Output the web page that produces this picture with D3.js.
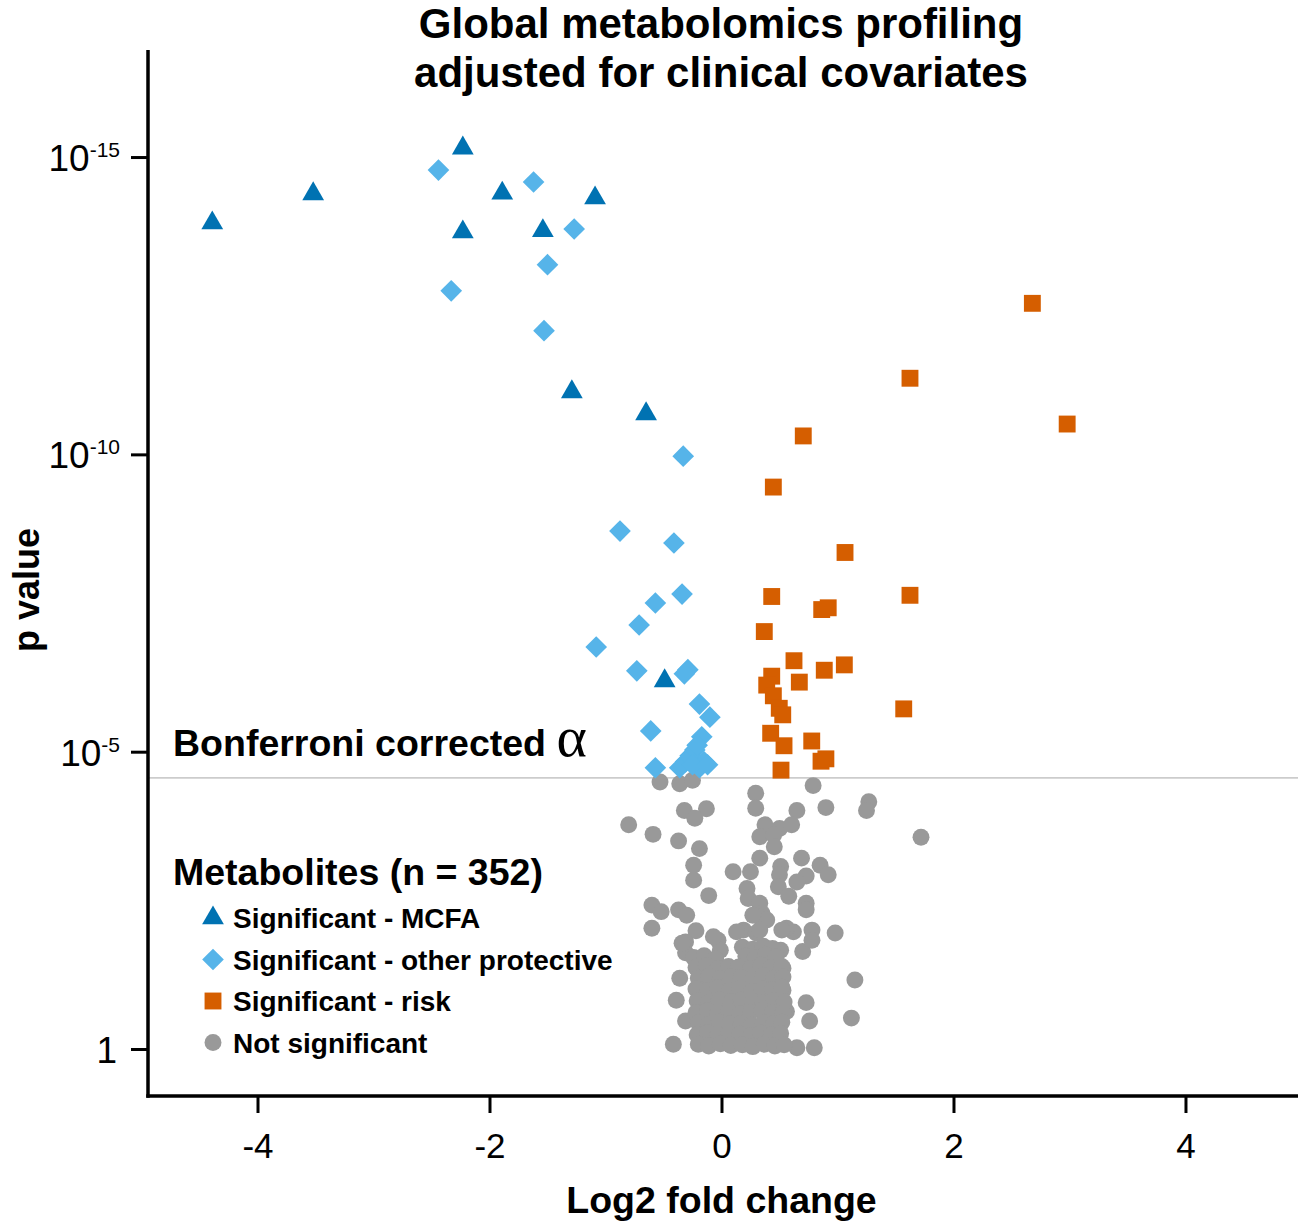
<!DOCTYPE html>
<html>
<head>
<meta charset="utf-8">
<script src="https://cdn.jsdelivr.net/npm/d3@7"></script>
<style>
  html, body { margin: 0; padding: 0; background: #fff; }
  svg { display: block; font-family: "Liberation Sans", Arial, sans-serif; }
</style>
</head>
<body>
<svg id="chart" width="1298" height="1228"></svg>
<script>
// ---------- DATA (log2 fold change, -log10 p) ----------
const mcfaFC      = [-2.23, -3.52, -4.39, -1.89, -1.09, -2.23, -1.54, -1.29, -0.65, -0.49];
const mcfaNegLogP = [15.15, 14.38, 13.89, 14.39, 14.31, 13.74, 13.76, 11.05, 10.68, 6.19];

const protFC      = [-2.44, -1.62, -1.27, -1.50, -2.33, -1.53, -0.33, -0.875, -0.41, -0.34,
                     -0.57, -0.71, -1.08, -0.73, -0.29, -0.32, -0.19, -0.10, -0.61, -0.17,
                     -0.23, -0.27, -0.31, -0.15, -0.36, -0.19, -0.25, -0.57, -0.12, -0.21];
const protNegLogP = [14.78, 14.58, 13.79, 13.19, 12.75, 12.08, 9.97, 8.71, 8.51, 7.65,
                     7.50, 7.13, 6.76, 6.36, 6.38, 6.31, 5.80, 5.58, 5.35, 5.25,
                     5.03, 4.93, 4.83, 4.83, 4.73, 4.73, 4.78, 4.73, 4.78, 5.11];

const riskFC      = [2.68, 1.625, 2.98, 0.705, 0.447, 1.065, 1.625, 0.433, 0.864, 0.92,
                     0.369, 0.625, 1.059, 0.886, 0.433, 0.671, 0.39, 0.447, 0.498, 0.528,
                     1.571, 0.424, 0.539, 0.778, 0.858, 0.90, 0.513];
const riskNegLogP = [12.54, 11.28, 10.51, 10.31, 9.45, 8.35, 7.63, 7.61, 7.39, 7.42,
                     7.02, 6.53, 6.46, 6.37, 6.27, 6.17, 6.12, 5.94, 5.73, 5.62,
                     5.72, 5.31, 5.10, 5.18, 4.84, 4.88, 4.69];

const nsFC = [
  -0.53, -0.36, -0.25, 0.79, 0.295, 0.295, -0.32, -0.13, -0.23, 0.65,
  0.90, 1.27, 1.25, -0.80, -0.59, -0.37, -0.19, 1.72, 0.375, 0.50,
  0.605, 0.33, 0.45, 0.455, 0.33, 0.69, 0.51, 0.85, 0.92, -0.24,
  -0.24, 0.10, 0.25, 0.50, 0.73, 0.65, 0.49, 0.22, 0.58, -0.11,
  0.23, 0.33, 0.73, 0.73, -0.60, -0.52, -0.37, -0.30, 0.35, -0.60,
  0.98, 1.15, 1.12, -0.415, 0.65, 0.80, -0.36, -0.39, -0.31, 0.73,
  0.76, 0.70, 0.56, 0.53, 0.53, 0.51, 0.78, 0.78, 0.62, 0.56,
  0.33, 0.39, 0.19, 0.30, -0.22, -0.31, -0.31, -0.03, -0.01, 0.27,
  0.52, 0.33, 0.13, -0.07, -0.34,
  0.18, 0.27, 0.36, 0.44,
  -0.24, -0.15, -0.05, 0.21, 0.29, 0.38, 0.47,
  -0.22, -0.13, -0.03, 0.06, 0.15, 0.25, 0.34, 0.43, 0.52,
  -0.20, -0.11, -0.01, 0.08, 0.17, 0.27, 0.36, 0.45, 0.53,
  -0.22, -0.12, -0.03, 0.07, 0.16, 0.26, 0.35, 0.44, 0.52,
  -0.21, -0.11, -0.02, 0.08, 0.17, 0.27, 0.36, 0.45, 0.54,
  -0.22, -0.12, -0.03, 0.06, 0.16, 0.25, 0.35, 0.44, 0.53,
  -0.20, -0.11, -0.02, 0.07, 0.17, 0.26, 0.36, 0.45, 0.52,
  -0.21, -0.12, -0.03, 0.06, 0.16, 0.25, 0.34, 0.43, 0.51,
  -0.20, -0.11, -0.01, 0.08, 0.18, 0.27, 0.37, 0.46, 0.54
];
const nsNegLogP = [
  4.49, 4.46, 4.52, 4.43, 4.30, 4.05, 4.01, 4.04, 3.88, 4.01,
  4.06, 4.16, 4.01, 3.77, 3.61, 3.50, 3.37, 3.56, 3.77, 3.71,
  3.77, 3.57, 3.60, 3.40, 3.21, 3.21, 3.07, 3.09, 2.93, 3.09,
  2.84, 2.98, 2.98, 2.93, 2.91, 2.81, 2.73, 2.70, 2.57, 2.58,
  2.53, 2.45, 2.45, 2.34, 2.42, 2.31, 2.34, 2.25, 2.28, 2.03,
  1.95, 1.16, 0.52, 0.08, 0.02, 0.02, 1.19, 0.82, 0.47, 0.78,
  0.47, 1.64, 0.63, 0.99, 1.36, 1.66, 2.00, 1.83, 1.97, 2.03,
  2.22, 2.17, 2.00, 1.95, 1.99, 1.80, 1.62, 1.83, 1.66, 2.25,
  2.00, 2.00, 1.97, 1.89, 1.78,
  1.71, 1.68, 1.73, 1.69,
  1.54, 1.57, 1.52, 1.56, 1.53, 1.58, 1.55,
  1.37, 1.40, 1.36, 1.39, 1.38, 1.35, 1.41, 1.37, 1.39,
  1.19, 1.22, 1.18, 1.21, 1.20, 1.17, 1.23, 1.19, 1.21,
  1.01, 0.98, 1.03, 0.99, 1.02, 0.97, 1.01, 1.00, 1.04,
  0.81, 0.78, 0.83, 0.79, 0.82, 0.80, 0.77, 0.81, 0.79,
  0.61, 0.64, 0.60, 0.63, 0.59, 0.62, 0.65, 0.61, 0.60,
  0.44, 0.41, 0.45, 0.42, 0.43, 0.40, 0.44, 0.42, 0.45,
  0.24, 0.27, 0.23, 0.26, 0.25, 0.22, 0.27, 0.24, 0.26,
  0.08, 0.05, 0.09, 0.06, 0.07, 0.04, 0.08, 0.05, 0.07
];

const bonferroniNegLogP = 4.56;

const xTicks = [-4, -2, 0, 2, 4];
const yTicks = [0, 5, 10, 15];           // -log10 p
const titleLines = ["Global metabolomics profiling", "adjusted for clinical covariates"];
const legendTitle = "Metabolites (n = 352)";
const legendLabels = ["Significant - MCFA", "Significant - other protective", "Significant - risk", "Not significant"];
const colors = { mcfa: "#0072B2", prot: "#56B4E9", risk: "#D55E00", ns: "#999999" };

// ---------- LAYOUT ----------
const svg = d3.select("#chart");
const plotLeft = 148, plotRight = 1298, plotTop = 50, plotBottom = 1096;

const x = d3.scaleLinear().domain([-4.944, 4.97]).range([plotLeft, plotRight]);
const y = d3.scaleLinear().domain([-0.79, 16.8]).range([plotBottom, plotTop]);

// Bonferroni line
svg.append("line")
  .attr("x1", plotLeft).attr("x2", plotRight)
  .attr("y1", y(bonferroniNegLogP)).attr("y2", y(bonferroniNegLogP))
  .attr("stroke", "#cccccc").attr("stroke-width", 1.6);

// symbols
const symTri = d3.symbol().type(d3.symbolTriangle).size(205);
const symDia = d3.symbol().type(d3.symbolSquare).size(235);
const symSq  = d3.symbol().type(d3.symbolSquare).size(285);
const symCir = d3.symbol().type(d3.symbolCircle).size(225);

const zip = (a, b) => a.map((v, i) => [v, b[i]]);

const gPts = svg.append("g");
gPts.selectAll(".ns").data(zip(nsFC, nsNegLogP)).join("path")
  .attr("class", "ns")
  .attr("d", symCir)
  .attr("transform", d => `translate(${x(d[0])},${y(d[1])})`)
  .attr("fill", colors.ns);

gPts.selectAll(".risk").data(zip(riskFC, riskNegLogP)).join("path")
  .attr("class", "risk")
  .attr("d", symSq)
  .attr("transform", d => `translate(${x(d[0])},${y(d[1])})`)
  .attr("fill", colors.risk);

gPts.selectAll(".prot").data(zip(protFC, protNegLogP)).join("path")
  .attr("class", "prot")
  .attr("d", symDia)
  .attr("transform", d => `translate(${x(d[0])},${y(d[1])}) rotate(45)`)
  .attr("fill", colors.prot);

gPts.selectAll(".mcfa").data(zip(mcfaFC, mcfaNegLogP)).join("path")
  .attr("class", "mcfa")
  .attr("d", symTri)
  .attr("transform", d => `translate(${x(d[0])},${y(d[1])})`)
  .attr("fill", colors.mcfa);

// ---------- AXES ----------
const xAxis = d3.axisBottom(x).tickValues(xTicks).tickSize(17).tickSizeOuter(0)
  .tickPadding(20).tickFormat(d => String(d));
const gx = svg.append("g").attr("transform", `translate(0,${plotBottom})`).call(xAxis);
gx.select(".domain").attr("stroke", "#000").attr("stroke-width", 3.5)
  .attr("d", `M${plotLeft - 1.75},0H${plotRight}`);
gx.selectAll(".tick line").attr("stroke", "#000").attr("stroke-width", 3);
gx.selectAll(".tick text").attr("font-size", 35).attr("fill", "#000")
  .attr("font-family", "Liberation Sans, Arial, sans-serif");

const yAxis = d3.axisLeft(y).tickValues(yTicks).tickSize(17).tickSizeOuter(0).tickPadding(10);
const gy = svg.append("g").attr("transform", `translate(${plotLeft},0)`).call(yAxis);
gy.select(".domain").attr("stroke", "#000").attr("stroke-width", 3.5)
  .attr("d", `M0,${plotTop}V${plotBottom + 1.75}`);
gy.selectAll(".tick line").attr("stroke", "#000").attr("stroke-width", 3);
gy.selectAll(".tick text").each(function(d) {
  const t = d3.select(this);
  t.text(null).attr("font-size", 37).attr("fill", "#000").attr("x", -28).attr("dy", "0.36em")
   .attr("font-family", "Liberation Sans, Arial, sans-serif");
  if (d === 0) {
    t.text("1").attr("x", -31);
  } else {
    t.append("tspan").text("10");
    t.append("tspan").text("-" + d).attr("font-size", 21).attr("dy", -14);
  }
});

// axis titles
svg.append("text")
  .attr("x", x(0)).attr("y", 1213)
  .attr("text-anchor", "middle").attr("font-size", 37.5).attr("font-weight", "bold")
  .text("Log2 fold change");

svg.append("text")
  .attr("transform", `translate(39,${590}) rotate(-90)`)
  .attr("text-anchor", "middle").attr("font-size", 36).attr("font-weight", "bold")
  .text("p value");

// title
titleLines.forEach((t, i) => {
  svg.append("text")
    .attr("x", 721).attr("y", 38 + i * 49)
    .attr("text-anchor", "middle").attr("font-size", 42).attr("font-weight", "bold")
    .text(t);
});

// Bonferroni label
const bt = svg.append("text").attr("x", 173).attr("y", 756)
  .attr("font-size", 37.5).attr("font-weight", "bold");
bt.append("tspan").text("Bonferroni corrected ");
bt.append("tspan").text("α").attr("font-family", "Liberation Serif, DejaVu Serif, serif")
  .attr("font-weight", "normal").attr("font-size", 58);

// ---------- LEGEND ----------
svg.append("text").attr("x", 173).attr("y", 885)
  .attr("font-size", 37.5).attr("font-weight", "bold").text(legendTitle);

const legendSyms = [
  { sym: symTri, color: colors.mcfa, rot: 0 },
  { sym: symDia, color: colors.prot, rot: 45 },
  { sym: symSq,  color: colors.risk, rot: 0 },
  { sym: symCir, color: colors.ns,   rot: 0 }
];
legendLabels.forEach((lab, i) => {
  const cy = 918 + i * 41.5;
  svg.append("path").attr("d", legendSyms[i].sym)
    .attr("transform", `translate(213,${cy}) rotate(${legendSyms[i].rot})`)
    .attr("fill", legendSyms[i].color);
  svg.append("text").attr("x", 233).attr("y", cy + 10)
    .attr("font-size", 28).attr("font-weight", "bold").text(lab);
});
</script>
</body>
</html>
